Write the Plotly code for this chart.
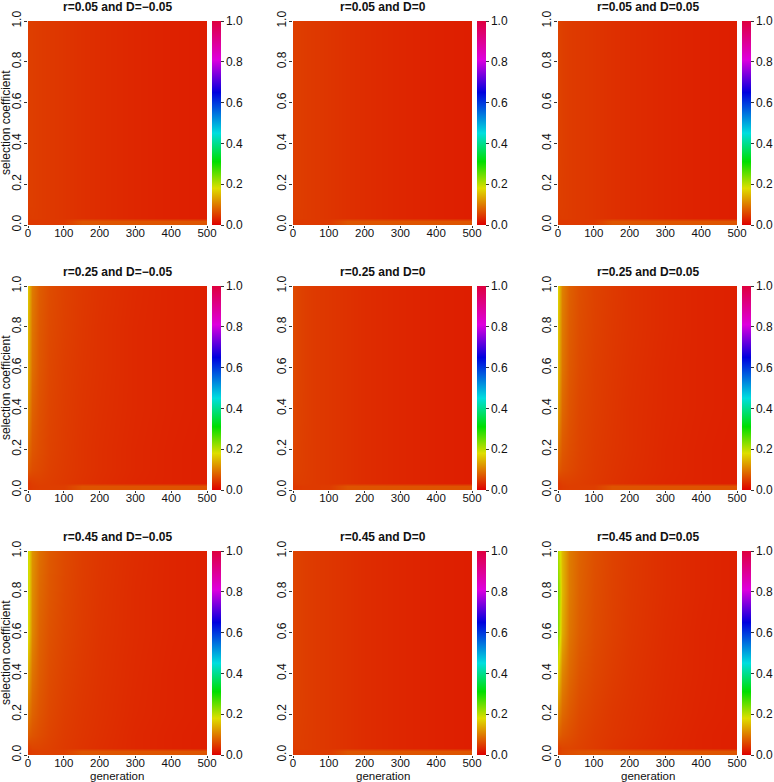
import plotly.graph_objects as go

# ---------------- data ----------------
GENERATION = [0, 10, 30, 60, 100, 150, 200, 300, 400, 500]
SELECTION = [0.0, 0.02, 0.035, 0.1, 0.2, 0.4, 0.6, 0.8, 1.0]

X_TICKS = [0, 100, 200, 300, 400, 500]
Y_TICKS = [0.0, 0.2, 0.4, 0.6, 0.8, 1.0]
Y_TICK_TEXT = ["0.0", "0.2", "0.4", "0.6", "0.8", "1.0"]
CB_TICK_TEXT = ["0.0", "0.2", "0.4", "0.6", "0.8", "1.0"]

TITLES = [
    "r=0.05 and D=\u22120.05", "r=0.05 and D=0", "r=0.05 and D=0.05",
    "r=0.25 and D=\u22120.05", "r=0.25 and D=0", "r=0.25 and D=0.05",
    "r=0.45 and D=\u22120.05", "r=0.45 and D=0", "r=0.45 and D=0.05",
]

# rows follow SELECTION (bottom to top), columns follow GENERATION
Z_R005_DM005 = [
    [0.045, 0.045, 0.046, 0.046, 0.047, 0.068, 0.068, 0.068, 0.068, 0.068],
    [0.045, 0.045, 0.046, 0.046, 0.047, 0.068, 0.068, 0.068, 0.068, 0.068],
    [0.048, 0.049, 0.048, 0.046, 0.043, 0.039, 0.036, 0.031, 0.027, 0.024],
    [0.050, 0.050, 0.048, 0.046, 0.043, 0.039, 0.036, 0.031, 0.027, 0.024],
    [0.050, 0.050, 0.048, 0.046, 0.043, 0.039, 0.036, 0.031, 0.027, 0.024],
    [0.050, 0.050, 0.048, 0.046, 0.043, 0.039, 0.036, 0.031, 0.027, 0.024],
    [0.050, 0.050, 0.048, 0.046, 0.043, 0.039, 0.036, 0.031, 0.027, 0.024],
    [0.050, 0.050, 0.048, 0.046, 0.043, 0.039, 0.036, 0.031, 0.027, 0.024],
    [0.050, 0.050, 0.048, 0.046, 0.043, 0.039, 0.036, 0.031, 0.027, 0.024],
]
Z_R005_D0 = [
    [0.045, 0.045, 0.046, 0.046, 0.047, 0.068, 0.068, 0.068, 0.068, 0.068],
    [0.045, 0.045, 0.046, 0.046, 0.047, 0.068, 0.068, 0.068, 0.068, 0.068],
    [0.048, 0.049, 0.048, 0.046, 0.043, 0.039, 0.036, 0.031, 0.027, 0.024],
    [0.050, 0.050, 0.048, 0.046, 0.043, 0.039, 0.036, 0.031, 0.027, 0.024],
    [0.050, 0.050, 0.048, 0.046, 0.043, 0.039, 0.036, 0.031, 0.027, 0.024],
    [0.050, 0.050, 0.048, 0.046, 0.043, 0.039, 0.036, 0.031, 0.027, 0.024],
    [0.050, 0.050, 0.048, 0.046, 0.043, 0.039, 0.036, 0.031, 0.027, 0.024],
    [0.050, 0.050, 0.048, 0.046, 0.043, 0.039, 0.036, 0.031, 0.027, 0.024],
    [0.050, 0.050, 0.048, 0.046, 0.043, 0.039, 0.036, 0.031, 0.027, 0.024],
]
Z_R005_DP005 = [
    [0.045, 0.045, 0.046, 0.046, 0.047, 0.068, 0.068, 0.068, 0.068, 0.068],
    [0.045, 0.045, 0.046, 0.046, 0.047, 0.068, 0.068, 0.068, 0.068, 0.068],
    [0.048, 0.049, 0.048, 0.046, 0.043, 0.039, 0.036, 0.031, 0.027, 0.024],
    [0.051, 0.050, 0.048, 0.046, 0.043, 0.039, 0.036, 0.031, 0.027, 0.024],
    [0.052, 0.050, 0.048, 0.046, 0.043, 0.039, 0.036, 0.031, 0.027, 0.024],
    [0.053, 0.051, 0.048, 0.046, 0.043, 0.039, 0.036, 0.031, 0.027, 0.024],
    [0.054, 0.051, 0.048, 0.046, 0.043, 0.039, 0.036, 0.031, 0.027, 0.024],
    [0.055, 0.051, 0.048, 0.046, 0.043, 0.039, 0.036, 0.031, 0.027, 0.024],
    [0.055, 0.051, 0.048, 0.046, 0.043, 0.039, 0.036, 0.031, 0.027, 0.024],
]
Z_R025_DM005 = [
    [0.045, 0.048, 0.050, 0.050, 0.050, 0.068, 0.068, 0.068, 0.068, 0.068],
    [0.045, 0.048, 0.050, 0.050, 0.050, 0.068, 0.068, 0.068, 0.068, 0.068],
    [0.045, 0.050, 0.052, 0.050, 0.046, 0.041, 0.037, 0.031, 0.028, 0.025],
    [0.070, 0.062, 0.058, 0.052, 0.047, 0.042, 0.038, 0.032, 0.028, 0.025],
    [0.090, 0.070, 0.062, 0.054, 0.048, 0.042, 0.038, 0.032, 0.028, 0.025],
    [0.120, 0.080, 0.066, 0.056, 0.049, 0.043, 0.039, 0.033, 0.029, 0.026],
    [0.140, 0.090, 0.070, 0.058, 0.050, 0.044, 0.040, 0.033, 0.029, 0.026],
    [0.150, 0.095, 0.072, 0.060, 0.052, 0.045, 0.040, 0.033, 0.029, 0.026],
    [0.160, 0.100, 0.075, 0.062, 0.053, 0.046, 0.041, 0.034, 0.029, 0.026],
]
Z_R025_D0 = [
    [0.045, 0.046, 0.047, 0.047, 0.048, 0.068, 0.068, 0.068, 0.068, 0.068],
    [0.045, 0.046, 0.047, 0.047, 0.048, 0.068, 0.068, 0.068, 0.068, 0.068],
    [0.048, 0.050, 0.049, 0.047, 0.044, 0.040, 0.036, 0.031, 0.027, 0.024],
    [0.054, 0.052, 0.050, 0.047, 0.044, 0.040, 0.036, 0.031, 0.027, 0.024],
    [0.056, 0.053, 0.050, 0.047, 0.044, 0.040, 0.036, 0.031, 0.027, 0.024],
    [0.058, 0.054, 0.051, 0.047, 0.044, 0.040, 0.036, 0.031, 0.027, 0.024],
    [0.060, 0.055, 0.051, 0.047, 0.044, 0.040, 0.036, 0.031, 0.027, 0.024],
    [0.060, 0.055, 0.051, 0.047, 0.044, 0.040, 0.036, 0.031, 0.027, 0.024],
    [0.060, 0.055, 0.051, 0.047, 0.044, 0.040, 0.036, 0.031, 0.027, 0.024],
]
Z_R025_DP005 = [
    [0.045, 0.048, 0.050, 0.050, 0.050, 0.068, 0.068, 0.068, 0.068, 0.068],
    [0.045, 0.048, 0.050, 0.050, 0.050, 0.068, 0.068, 0.068, 0.068, 0.068],
    [0.046, 0.051, 0.052, 0.050, 0.046, 0.041, 0.037, 0.031, 0.028, 0.025],
    [0.072, 0.064, 0.059, 0.053, 0.047, 0.042, 0.038, 0.032, 0.028, 0.025],
    [0.095, 0.072, 0.063, 0.055, 0.048, 0.043, 0.039, 0.032, 0.028, 0.025],
    [0.130, 0.085, 0.068, 0.057, 0.050, 0.044, 0.039, 0.033, 0.029, 0.026],
    [0.150, 0.095, 0.072, 0.060, 0.051, 0.045, 0.040, 0.033, 0.029, 0.026],
    [0.160, 0.100, 0.075, 0.062, 0.053, 0.046, 0.041, 0.034, 0.029, 0.026],
    [0.170, 0.105, 0.078, 0.064, 0.054, 0.047, 0.041, 0.034, 0.029, 0.026],
]
Z_R045_DM005 = [
    [0.045, 0.050, 0.052, 0.052, 0.052, 0.068, 0.068, 0.068, 0.068, 0.068],
    [0.045, 0.050, 0.052, 0.052, 0.052, 0.068, 0.068, 0.068, 0.068, 0.068],
    [0.050, 0.055, 0.055, 0.052, 0.047, 0.042, 0.038, 0.032, 0.028, 0.025],
    [0.075, 0.068, 0.062, 0.055, 0.048, 0.043, 0.039, 0.032, 0.028, 0.025],
    [0.100, 0.080, 0.068, 0.058, 0.050, 0.044, 0.040, 0.033, 0.029, 0.026],
    [0.140, 0.095, 0.075, 0.062, 0.053, 0.046, 0.041, 0.034, 0.029, 0.026],
    [0.180, 0.110, 0.080, 0.066, 0.056, 0.048, 0.042, 0.035, 0.030, 0.027],
    [0.190, 0.115, 0.085, 0.070, 0.058, 0.049, 0.043, 0.035, 0.030, 0.027],
    [0.190, 0.120, 0.090, 0.072, 0.060, 0.050, 0.044, 0.036, 0.030, 0.027],
]
Z_R045_D0 = [
    [0.045, 0.046, 0.047, 0.047, 0.048, 0.068, 0.068, 0.068, 0.068, 0.068],
    [0.045, 0.046, 0.047, 0.047, 0.048, 0.068, 0.068, 0.068, 0.068, 0.068],
    [0.048, 0.050, 0.049, 0.047, 0.044, 0.040, 0.036, 0.031, 0.027, 0.024],
    [0.052, 0.051, 0.049, 0.047, 0.044, 0.040, 0.036, 0.031, 0.027, 0.024],
    [0.054, 0.052, 0.050, 0.047, 0.044, 0.040, 0.036, 0.031, 0.027, 0.024],
    [0.055, 0.053, 0.050, 0.047, 0.044, 0.040, 0.036, 0.031, 0.027, 0.024],
    [0.056, 0.053, 0.050, 0.047, 0.044, 0.040, 0.036, 0.031, 0.027, 0.024],
    [0.056, 0.053, 0.050, 0.047, 0.044, 0.040, 0.036, 0.031, 0.027, 0.024],
    [0.056, 0.053, 0.050, 0.047, 0.044, 0.040, 0.036, 0.031, 0.027, 0.024],
]
Z_R045_DP005 = [
    [0.050, 0.058, 0.062, 0.066, 0.068, 0.068, 0.068, 0.068, 0.068, 0.068],
    [0.050, 0.058, 0.062, 0.066, 0.068, 0.068, 0.068, 0.068, 0.068, 0.068],
    [0.050, 0.056, 0.056, 0.053, 0.048, 0.042, 0.038, 0.032, 0.028, 0.025],
    [0.080, 0.070, 0.064, 0.056, 0.049, 0.044, 0.040, 0.033, 0.028, 0.025],
    [0.110, 0.085, 0.072, 0.060, 0.052, 0.045, 0.041, 0.034, 0.029, 0.026],
    [0.170, 0.110, 0.085, 0.068, 0.057, 0.049, 0.043, 0.035, 0.030, 0.026],
    [0.230, 0.140, 0.095, 0.075, 0.061, 0.052, 0.045, 0.036, 0.030, 0.027],
    [0.240, 0.150, 0.100, 0.078, 0.063, 0.053, 0.046, 0.037, 0.031, 0.027],
    [0.210, 0.150, 0.100, 0.080, 0.065, 0.054, 0.047, 0.037, 0.031, 0.027],
]

PANELS = [Z_R005_DM005, Z_R005_D0, Z_R005_DP005,
          Z_R025_DM005, Z_R025_D0, Z_R025_DP005,
          Z_R045_DM005, Z_R045_D0, Z_R045_DP005]

# ---------------- style ----------------
W, H = 774, 782
COL_LEFT = [28, 293, 558]
ROW_TOP = [21, 286, 551]
PW, PH = 179, 204
FONT = "Liberation Sans, Arial, Helvetica, sans-serif"


def hsv(h, v=0.87):
    import colorsys
    r, g, b = colorsys.hsv_to_rgb(h % 1.0, 1.0, v)
    return "rgb(%d,%d,%d)" % (round(r * 255), round(g * 255), round(b * 255))


COLORSCALE = [
    [0.0, hsv(0.0)],
    [0.18, hsv(1 / 6)],
    [0.31, hsv(1 / 3)],
    [0.45, hsv(0.5)],
    [0.65, hsv(2 / 3)],
    [0.81, hsv(5 / 6)],
    [1.0, hsv(0.955)],
]

fig = go.Figure()
annotations = []
layout_axes = {}

for idx, z in enumerate(PANELS):
    r, c = divmod(idx, 3)
    n = idx + 1
    xa = "x" if n == 1 else "x%d" % n
    ya = "y" if n == 1 else "y%d" % n
    x0 = COL_LEFT[c] / W
    x1 = (COL_LEFT[c] + PW) / W
    y1 = 1 - ROW_TOP[r] / H
    y0 = 1 - (ROW_TOP[r] + PH) / H

    fig.add_trace(go.Heatmap(
        x=GENERATION, y=SELECTION, z=z,
        xaxis=xa, yaxis=ya,
        zmin=0, zmax=1, zsmooth="best",
        colorscale=COLORSCALE,
        colorbar=dict(
            x=(COL_LEFT[c] + PW + 5) / W, xanchor="left", xpad=0,
            y=(y0 + y1) / 2, yanchor="middle", ypad=0,
            len=PH / H, lenmode="fraction",
            thickness=9, thicknessmode="pixels",
            outlinewidth=0,
            tickmode="array", tickvals=Y_TICKS, ticktext=CB_TICK_TEXT,
            ticks="outside", ticklen=3, tickcolor="#333",
            tickfont=dict(family=FONT, size=12, color="#111"),
        ),
    ))

    xkey = "xaxis" if n == 1 else "xaxis%d" % n
    ykey = "yaxis" if n == 1 else "yaxis%d" % n
    layout_axes[xkey] = dict(
        domain=[x0, x1], anchor=ya, range=[0, 500],
        tickmode="array", tickvals=X_TICKS, ticktext=[str(t) for t in X_TICKS],
        ticks="outside", ticklen=2, tickcolor="#333", ticklabelstandoff=-5,
        showgrid=False, zeroline=False, showline=False, automargin=False,
        tickfont=dict(family=FONT, size=11.5, color="#111"),
    )
    layout_axes[ykey] = dict(
        domain=[y0, y1], anchor=xa, range=[0, 1],
        tickmode="array", tickvals=Y_TICKS, ticktext=Y_TICK_TEXT,
        tickangle=-90,
        ticks="outside", ticklen=3, tickcolor="#333", ticklabelstandoff=-2,
        showgrid=False, zeroline=False, showline=False, automargin=False,
        tickfont=dict(family=FONT, size=12, color="#111"),
    )

    annotations.append(dict(
        text="<b>%s</b>" % TITLES[idx], xref="paper", yref="paper",
        x=(x0 + x1) / 2, y=1 - (ROW_TOP[r] - 14) / H,
        xanchor="center", yanchor="middle", showarrow=False,
        font=dict(family=FONT, size=12, color="#111"),
    ))
    if c == 0:
        annotations.append(dict(
            text="selection coefficient", xref="paper", yref="paper",
            x=6 / W, y=(y0 + y1) / 2, textangle=-90,
            xanchor="center", yanchor="middle", showarrow=False,
            font=dict(family=FONT, size=12, color="#111"),
        ))
    if r == 2:
        annotations.append(dict(
            text="generation", xref="paper", yref="paper",
            x=(x0 + x1) / 2, y=1 - 776 / H,
            xanchor="center", yanchor="middle", showarrow=False,
            font=dict(family=FONT, size=11.5, color="#111"),
        ))

fig.update_layout(
    width=W, height=H,
    margin=dict(l=0, r=0, t=0, b=0, pad=0, autoexpand=False),
    paper_bgcolor="white", plot_bgcolor="white",
    showlegend=False,
    annotations=annotations,
    **layout_axes,
)

fig.write_html(
    "out.html",
    config={"displayModeBar": False},
    post_script="document.body.style.margin='0px';document.body.style.overflow='hidden';",
)
